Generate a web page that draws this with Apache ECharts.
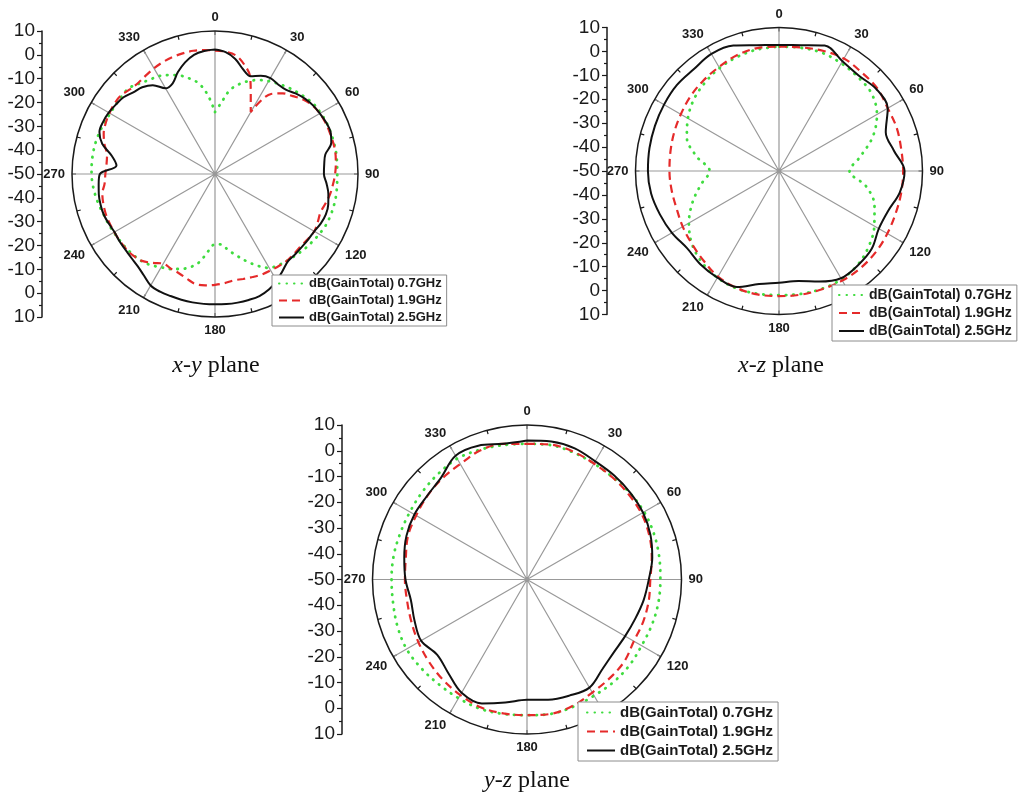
<!DOCTYPE html>
<html>
<head>
<meta charset="utf-8">
<script src="https://cdn.jsdelivr.net/npm/echarts@6/dist/echarts.min.js"></script>
<style>
  html, body { margin: 0; padding: 0; background: #ffffff; }
  #chart { width: 1018px; height: 796px; }
</style>
</head>
<body>
<div id="chart"></div>
<script>
// ---- Radiation pattern data (dB, GainTotal) ----
const seriesNames = ['dB(GainTotal) 0.7GHz', 'dB(GainTotal) 1.9GHz', 'dB(GainTotal) 2.5GHz'];

// Gain scale labels shown on the vertical bar beside each pattern (top to bottom)
const gainTickLabels = ['10', '0', '-10', '-20', '-30', '-40', '-50', '-40', '-30', '-20', '-10', '0', '10'];

// x-y plane, sampled every 5 degrees
const xyAngles = [0, 5, 10, 15, 20, 25, 30, 35, 40, 45, 50, 55, 60, 65, 70, 75, 80, 85, 90, 95, 100, 105, 110, 115,
  120, 125, 130, 135, 140, 145, 150, 155, 160, 165, 170, 175, 180, 185, 190, 195, 200, 205, 210, 215, 220, 225, 230, 235,
  240, 245, 250, 255, 260, 265, 270, 275, 280, 285, 290, 295, 300, 305, 310, 315, 320, 325, 330, 335, 340, 345, 350, 355];
const xyGain07 = [-24, -20, -14.3, -11, -8.5, -6.5, -5, -3.8, -2.5, -1.4, -0.2, 0.8, 1.2, 1.5, 1.6, 1.6, 1.6, 1.4, 1.3, 1.4, 1.6, 1.6, 1.5, 1.2,
  0.5, -0.3, -1, -1.9, -2.6, -3.4, -4.5, -7.5, -11, -14.5, -17.5, -20.3, -20.5, -17.5, -12.5, -9.5, -7.6, -6, -4.8, -3.3,
  -2.2, -1.8, -1.5, -1.3, -1, -0.6, -0.3, 0.4, 1, 1.5, 1.8, 1.9, 1.9, 1.8, 1.5, 1.1, 0.8, 0.8, 1, 1, -0.5, -1.8, -2.6, -4.2,
  -6, -8.5, -11.5, -17];
const xyGain19 = [1.8, 1.5, 0.5, -2.5, -6.8, -14.5, -20, -9, -5.8, -3.8, -1.5, 0, 0.8, 1.1, 1.2, 1.3, 1.3, 0.9, 0.4, -0.3, -1, -2, -2.9, -2.4,
  -1.9, -2.4, -3, -2.9, -2.7, -3, -3.3, -3.5, -4, -4.4, -4.7, -4, -3.5, -3.1, -3.1, -4.5, -5.7, -6.2, -6.6, -4.5,
  -2.4, -1.5, -1.2, -1.2, -1.2, -1.2, -1.2, -1.5, -2, -3.5, -4, -4.3, -4, -2, -0.3, 0.6, 1.1, 1.5, 1.4, 0.3, 0, 0.5, 1.2, 1.8,
  2.2, 2.4, 2.5, 2.2];
const xyGain25 = [2.2, 1.3, -1, -4.5, -6.3, -4.5, -3.5, -4, -3.8, -2.2, -0.8, 0.2, 0.8, 1.4, 1.6, 0.5, -3, -4, -4.3, -3, -1.7, -0.8, -0.5, -1,
  -1.9, -2.2, -2.4, -2.4, -2.3, -0.5, 1.8, 3.5, 4.5, 4.7, 4.8, 4.8, 4.7, 4.7, 4.7, 4.6, 4.5, 4.5, 4, 2,
  0.5, -0.3, -0.8, -1, -1.3, -0.8, -0.3, -0.3, -0.5, -1, -1.7, -8.5, -6, -1, 1.6, 1.8, 1.5, 0.8, 0.1, -1.5, -2.5, -4.5, -8.5, -8,
  -4.5, -1.5, 0.8, 1.8];

// x-z and y-z planes, sampled every 10 degrees
const planeAngles = [0, 10, 20, 30, 40, 50, 60, 70, 80, 90, 100, 110, 120, 130, 140, 150, 160, 170,
  180, 190, 200, 210, 220, 230, 240, 250, 260, 270, 280, 290, 300, 310, 320, 330, 340, 350];
const xzGain07 = [2, 2.3, 2.6, 2, 1.3, 0.5, -2.7, -8.3, -15.5, -20.5, -13, -7.5, -4, -1, 1.2, 2.3, 2.4, 2.2,
  1.9, 2.1, 2.2, 1.5, 0, -2.5, -6.5, -11.5, -16.8, -21, -15, -9, -6, -3.5, -1.8, -0.3, 0.8, 1.6];
const xzGain19 = [2, 2.5, 3.5, 4.3, 3.8, 3.7, 2.5, 2.4, 1.9, 1.9, 1.9, 1.9, 2.3, 2.8, 3, 2.9, 2.6, 2.5,
  2.3, 2.4, 2, 1, -1, -2.5, -3.5, -4.4, -4.4, -4.2, -3.9, -3.3, -2.6, -1.6, -0.7, 0.2, 1.5, 2.2];
const xzGain25 = [2.7, 3.4, 5.8, 3, 2, 3.2, 2.5, -2.5, -1.2, 2.5, 1.3, -1.4, -1.8, 0.6, 1.4, 1.8, -0.8, -3.3,
  -3.3, -2, 1.6, 1.5, 1, 0.2, 1.7, 3, 4.3, 4.8, 5, 5.2, 5.5, 5.8, 5.5, 6.5, 5.8, 3.4];

const yzGain07 = [2.7, 3, 2.5, 2, 1.8, 2.2, 2.5, 2.4, 2.1, 1.8, 1.8, 1.6, 1.4, 1.9, 2.1, 2.1, 2.6, 3,
  2.7, 3, 3.4, 3.2, 3.2, 3.6, 4, 3.5, 2.8, 2.6, 2.6, 2.4, 2.5, 3, 3.6, 4.2, 3.6, 3];
const yzGain19 = [2.7, 3.2, 2.8, 2, 1.7, 1.5, 1.3, 0.5, -0.8, -2.1, -2, -2, -2.1, -0.6, 0, 0.7, 2.2, 3,
  2.7, 2.8, 2.8, 1.8, 0.8, -0.3, -1.3, -2.2, -2.7, -2.6, -2.2, -0.8, -0.3, 0.5, 1.2, 1.8, 3.3, 3.5];
const yzGain25 = [4, 4.4, 4.2, 3, 2.7, 2.4, 2, 1, -0.6, -2.7, -4, -5.3, -6, -6, -4.5, -1.5, -2, -2.6,
  -3.3, -1.5, 1.2, 0.8, -2.5, -4.5, -2.5, -3.5, -4.2, -2.8, -1.6, -0.2, 0.5, 0.6, 1.8, 5.5, 5.3, 3.5];

// ---- Panel layout ----
const panels = [
  { caption: 'x-y', center: [215, 174], radius: 143, barX: 42,
    angles: xyAngles, gains: [xyGain07, xyGain19, xyGain25],
    legend: { left: 272, top: 275, fontSize: 13, itemWidth: 25, itemHeight: 12, itemGap: 4, padding: [2, 5, 2, 6] },
    captionPos: [216, 366] },
  { caption: 'x-z', center: [779, 171], radius: 143.5, barX: 607,
    angles: planeAngles, gains: [xzGain07, xzGain19, xzGain25],
    legend: { left: 832, top: 285, fontSize: 14, itemWidth: 25, itemHeight: 14, itemGap: 4, padding: [3, 5, 3, 6] },
    captionPos: [781, 366] },
  { caption: 'y-z', center: [527, 579.5], radius: 154.5, barX: 342,
    angles: planeAngles, gains: [yzGain07, yzGain19, yzGain25],
    legend: { left: 578, top: 702, fontSize: 15, itemWidth: 28, itemHeight: 15, itemGap: 4, padding: [3, 5, 3, 8] },
    captionPos: [527, 781] }
];

const lineStyles = [
  { color: '#3fdc3f', width: 2.8, type: [0.5, 7], cap: 'round' },
  { color: '#e52a2a', width: 2.2, type: [8, 5] },
  { color: '#111111', width: 2, type: 'solid' }
];

const chart = echarts.init(document.getElementById('chart'), null, { renderer: 'canvas' });

const polar = [], angleAxis = [], radiusAxis = [], grid = [], xAxis = [], yAxis = [], legend = [], series = [], graphic = [];

panels.forEach((p, k) => {
  polar.push({ center: p.center, radius: p.radius });
  angleAxis.push({
    polarIndex: k, type: 'value', min: 0, max: 360, interval: 30,
    startAngle: 90, clockwise: true,
    axisLine: { show: true, lineStyle: { color: '#1a1a1a', width: 1.5 } },
    axisTick: { show: true, inside: true, length: 4, lineStyle: { color: '#1a1a1a', width: 1.2 } },
    minorTick: { show: true, splitNumber: 2, length: 4, lineStyle: { color: '#1a1a1a', width: 1.2 } },
    axisLabel: { show: true, margin: 7, fontSize: 13, fontWeight: 'bold', color: '#1a1a1a', fontFamily: 'Liberation Sans' },
    splitLine: { show: true, lineStyle: { color: '#999999', width: 1.2 } }
  });
  radiusAxis.push({ polarIndex: k, type: 'value', min: -50, max: 10, show: false, splitLine: { show: false } });

  // Vertical gain bar to the left of the pattern
  grid.push({ left: p.barX, top: p.center[1] - p.radius, width: 1, height: 2 * p.radius, containLabel: false });
  xAxis.push({ gridIndex: k, type: 'value', show: false, min: 0, max: 1 });
  yAxis.push({
    gridIndex: k, type: 'value', min: -60, max: 60, interval: 10, position: 'left',
    axisLine: { show: true, lineStyle: { color: '#1a1a1a', width: 1.5 } },
    axisTick: { show: true, length: 5, lineStyle: { color: '#1a1a1a', width: 1.2 } },
    minorTick: { show: true, splitNumber: 2, length: 3, lineStyle: { color: '#1a1a1a', width: 1.2 } },
    splitLine: { show: false },
    axisLabel: {
      margin: 7, fontSize: 19, color: '#1a1a1a', fontFamily: 'Liberation Sans',
      formatter: (v) => gainTickLabels[Math.round((60 - v) / 10)]
    }
  });

  p.gains.forEach((vals, s) => {
    const pts = p.angles.map((a, i) => [vals[i], a]);
    pts.push([vals[0], 360]);
    series.push({
      name: seriesNames[s], type: 'line', coordinateSystem: 'polar', polarIndex: k,
      data: pts, smooth: 0.35, symbol: 'none', showSymbol: false, silent: true,
      itemStyle: { color: lineStyles[s].color },
      lineStyle: lineStyles[s], z: 2 + s
    });
  });

  legend.push({
    data: seriesNames, orient: 'vertical', selectedMode: false,
    left: p.legend.left, top: p.legend.top,
    itemWidth: p.legend.itemWidth, itemHeight: p.legend.itemHeight, itemGap: p.legend.itemGap,
    padding: p.legend.padding,
    backgroundColor: '#ffffff', borderColor: '#8c8c8c', borderWidth: 1, borderRadius: 0,
    itemStyle: { color: 'rgba(0,0,0,0)', borderColor: 'rgba(0,0,0,0)', borderWidth: 0, opacity: 0 },
    textStyle: { fontSize: p.legend.fontSize, fontWeight: 'bold', color: '#1a1a1a', fontFamily: 'Liberation Sans' },
    z: 20
  });

  graphic.push({
    type: 'text', x: p.captionPos[0], y: p.captionPos[1], z: 30,
    style: {
      text: '{i|' + p.caption + '} plane',
      fontFamily: 'Liberation Serif', fontSize: 24, fill: '#111111',
      align: 'center', verticalAlign: 'middle',
      rich: { i: { fontFamily: 'Liberation Serif', fontSize: 24, fontStyle: 'italic', fill: '#111111' } }
    }
  });
});

chart.setOption({
  animation: false,
  backgroundColor: '#ffffff',
  polar, angleAxis, radiusAxis, grid, xAxis, yAxis, legend, series, graphic
});
</script>
</body>
</html>
